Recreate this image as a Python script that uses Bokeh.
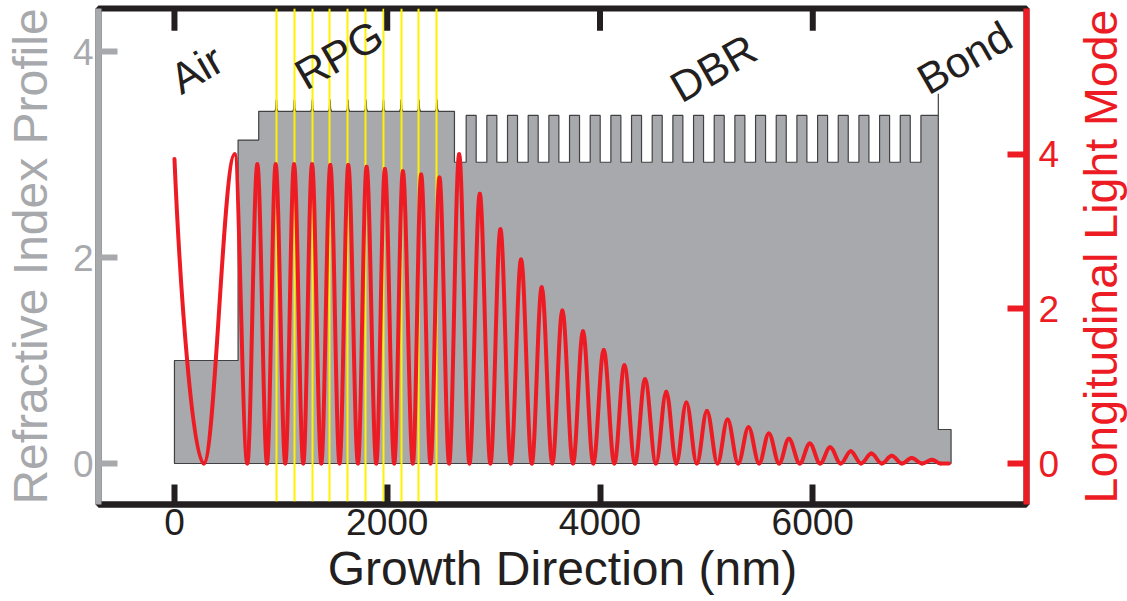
import math

from bokeh.core.properties import value
from bokeh.embed import file_html
from bokeh.layouts import row
from bokeh.models import FixedTicker, LinearAxis, Range1d
from bokeh.plotting import figure
from bokeh.resources import INLINE

# ---------------------------------------------------------------------------
# Layer stack along the growth direction (nm) and refractive indices
# ---------------------------------------------------------------------------
air_end = 598
cap_end = 792
rpg_end = 2632
n_air = 1.0
n_cap = 3.14
n_rpg = 3.42
n_qw = 3.53

# quantum-well positions of the resonant periodic gain (RPG) region
qw_pos = [958, 1127, 1296, 1462, 1631, 1800, 1965, 2131, 2298, 2467]

# distributed Bragg reflector
dbr_first_high = 2742
dbr_period = 194.3
dbr_high_width = 94
dbr_pairs = 22
n_dbr_high = 3.38
n_dbr_low = 2.925
dbr_end = 7180

# bonding interface
n_bond_mark = 3.59
n_bond = 0.33
bond_end = 7300

# ---------------------------------------------------------------------------
# Longitudinal light mode: extrema (position in nm, intensity)
# ---------------------------------------------------------------------------
mode_x = [0, 275, 566, 685, 779, 870, 951, 1042, 1124, 1211, 1293, 1380,
          1465, 1552, 1634, 1725, 1806, 1897, 1978, 2066, 2147, 2241, 2319,
          2407, 2491, 2582, 2676, 2773, 2870, 2970, 3064, 3161, 3258, 3359,
          3452, 3552, 3646, 3746, 3840, 3937, 4035, 4135, 4229, 4329, 4423,
          4526, 4623, 4717, 4812, 4910, 5005, 5105, 5199, 5299, 5396, 5496,
          5587, 5684, 5775, 5878, 5972, 6069, 6163, 6263, 6357, 6454, 6551,
          6648, 6742, 6839, 6930, 7027, 7121, 7202, 7280]
mode_y = [3.94, 0, 4.0, 0, 3.87, 0, 3.87, 0, 3.87, 0, 3.87, 0,
          3.86, 0, 3.86, 0, 3.84, 0, 3.81, 0, 3.78, 0, 3.74,
          0, 3.70, 0, 4.0, 0, 3.49, 0, 3.03, 0, 2.64, 0,
          2.28, 0, 1.98, 0, 1.71, 0, 1.47, 0, 1.27, 0, 1.09,
          0, 0.93, 0, 0.79, 0, 0.68, 0, 0.57, 0, 0.47, 0,
          0.39, 0, 0.32, 0, 0.26, 0, 0.21, 0, 0.16, 0, 0.13,
          0, 0.10, 0, 0.07, 0, 0.05, 0, 0]

# region labels
region_text = ["Air", "RPG", "DBR", "Bond"]
region_x = [207, 1545, 5065, 7425]
region_y = [3.83, 3.97, 3.84, 3.94]

x_ticks = [0, 2000, 4000, 6000]
n_ticks = [0, 2, 4]
mode_ticks = [0, 2, 4]

x_title = "Growth Direction (nm)"
n_title = "Refractive Index Profile"
mode_title = "Longitudinal Light Mode"

BLACK = "#231f20"
GREY = "#a7a9ac"
RED = "#ed1c24"
YELLOW = "#fff200"
FONT = "Liberation Sans"

X_RANGE = (-714, 8009)
N_RANGE = (-0.398, 4.418)
MODE_RANGE = (-0.530, 5.886)

# page geometry (px)
PAGE_H = 601
BORDER_TOP, BORDER_BOTTOM = 8, 97

# ---------------------------------------------------------------------------
# Refractive index outline
# ---------------------------------------------------------------------------
px = [0, 0, air_end, air_end, cap_end, cap_end]
py = [0, n_air, n_air, n_cap, n_cap, n_rpg]
for q in qw_pos:
    px += [q - 14, q - 6, q - 2, q + 2, q + 6, q + 14]
    py += [n_rpg, n_rpg + 0.025, n_qw, n_qw, n_rpg + 0.025, n_rpg]
px += [rpg_end, rpg_end]
py += [n_rpg, n_dbr_low]
for k in range(dbr_pairs):
    h0 = dbr_first_high + k * dbr_period
    px += [h0, h0, h0 + dbr_high_width, h0 + dbr_high_width]
    py += [n_dbr_low, n_dbr_high, n_dbr_high, n_dbr_low]
last_high = dbr_first_high + dbr_pairs * dbr_period
px += [last_high, last_high, dbr_end, dbr_end, dbr_end, bond_end, bond_end]
py += [n_dbr_low, n_dbr_high, n_dbr_high, n_bond_mark, n_bond, n_bond, 0]

# ---------------------------------------------------------------------------
# Mode curve as cubic Bezier pieces between neighbouring extrema
# ---------------------------------------------------------------------------
K = 0.36
bx0, by0, bx1, by1, cx0, cy0, cx1, cy1 = ([] for _ in range(8))
for i in range(len(mode_x) - 1):
    xa, ya, xb, yb = mode_x[i], mode_y[i], mode_x[i + 1], mode_y[i + 1]
    dx = xb - xa
    bx0.append(xa); by0.append(ya); bx1.append(xb); by1.append(yb)
    if i == 0:
        # the curve enters the plot mid-slope
        cx0.append(xa + 0.2 * dx); cy0.append(ya * 0.55)
    else:
        cx0.append(xa + K * dx); cy0.append(ya)
    cx1.append(xb - K * dx); cy1.append(yb)

# ---------------------------------------------------------------------------
# Main figure
# ---------------------------------------------------------------------------
p = figure(width=1074, height=PAGE_H, output_backend="svg", toolbar_location=None,
           x_range=Range1d(*X_RANGE), y_range=Range1d(*N_RANGE),
           min_border_left=97, min_border_right=48,
           min_border_top=BORDER_TOP, min_border_bottom=BORDER_BOTTOM)
p.extra_y_ranges = {"mode": Range1d(*MODE_RANGE)}
p.grid.visible = False
p.background_fill_color = "white"
p.border_fill_color = "white"
# black frame line along the top edge (the other sides are covered by axes)
p.outline_line_color = BLACK
p.outline_line_width = 6

p.patch(px, py, fill_color=GREY, line_color="#414042", line_width=1.2)
p.vspan(x=qw_pos, line_color=YELLOW, line_width=2)
p.bezier(x0=bx0, y0=by0, x1=bx1, y1=by1, cx0=cx0, cy0=cy0, cx1=cx1, cy1=cy1,
         line_color=RED, line_width=4, line_cap="round",
         y_range_name="mode")

# inward ticks hanging from the top frame line
top_len = 0.215 * (N_RANGE[1] - N_RANGE[0]) / 4.816
p.segment(x0=x_ticks, x1=x_ticks, y0=[N_RANGE[1]] * len(x_ticks),
          y1=[N_RANGE[1] - top_len] * len(x_ticks),
          line_color=BLACK, line_width=6)

p.text(x=region_x, y=region_y, text=region_text, angle=math.radians(30),
       text_font=value(FONT), text_font_size=value("43px"),
       text_align="center", text_baseline="middle", text_color=BLACK)


def style_axis(ax, color, ticks, tick_in):
    ax.ticker = FixedTicker(ticks=ticks)
    ax.minor_tick_line_color = None
    ax.axis_line_color = color
    ax.axis_line_width = 6
    ax.major_tick_line_color = color
    ax.major_tick_line_width = 6
    ax.major_tick_in = tick_in
    ax.major_tick_out = 0
    ax.major_label_text_font = FONT
    ax.major_label_text_font_size = "37px"
    ax.major_label_text_color = color
    ax.axis_label_text_font = FONT
    ax.axis_label_text_font_size = "48px"
    ax.axis_label_text_font_style = "normal"
    ax.axis_label_text_color = color


xb = p.xaxis[0]
style_axis(xb, BLACK, x_ticks, 20)
xb.axis_label = x_title
xb.major_label_standoff = 4
xb.axis_label_standoff = 4

yl = p.yaxis[0]
style_axis(yl, GREY, n_ticks, 19)
yl.axis_label = n_title
yl.major_label_standoff = 5
yl.axis_label_standoff = 13

yr = LinearAxis(y_range_name="mode")
style_axis(yr, RED, mode_ticks, 19)
yr.major_label_standoff = 12
p.add_layout(yr, "right")

# ---------------------------------------------------------------------------
# Narrow strip on the right carrying the mode axis title (reads upwards).
# Its plot frame is aligned with the main frame, so the y range is expressed
# in page pixels measured upward from the page bottom.
# ---------------------------------------------------------------------------
STRIP_W = 53
side = figure(width=STRIP_W, height=PAGE_H, output_backend="svg",
              toolbar_location=None, x_range=Range1d(0, STRIP_W),
              y_range=Range1d(BORDER_BOTTOM, PAGE_H - BORDER_TOP),
              x_axis_type=None, y_axis_type=None,
              min_border_left=0, min_border_right=0,
              min_border_top=0, min_border_bottom=0)
side.grid.visible = False
side.outline_line_color = None
side.background_fill_color = "white"
side.border_fill_color = "white"
side.text(x=[STRIP_W / 2], y=[PAGE_H - 256], text=[mode_title],
          angle=math.pi / 2, text_font=value(FONT),
          text_font_size=value("46.5px"), text_align="center",
          text_baseline="middle", text_color=RED)

layout = row(p, side, spacing=0)
open("out.html", "w").write(file_html(layout, INLINE))
